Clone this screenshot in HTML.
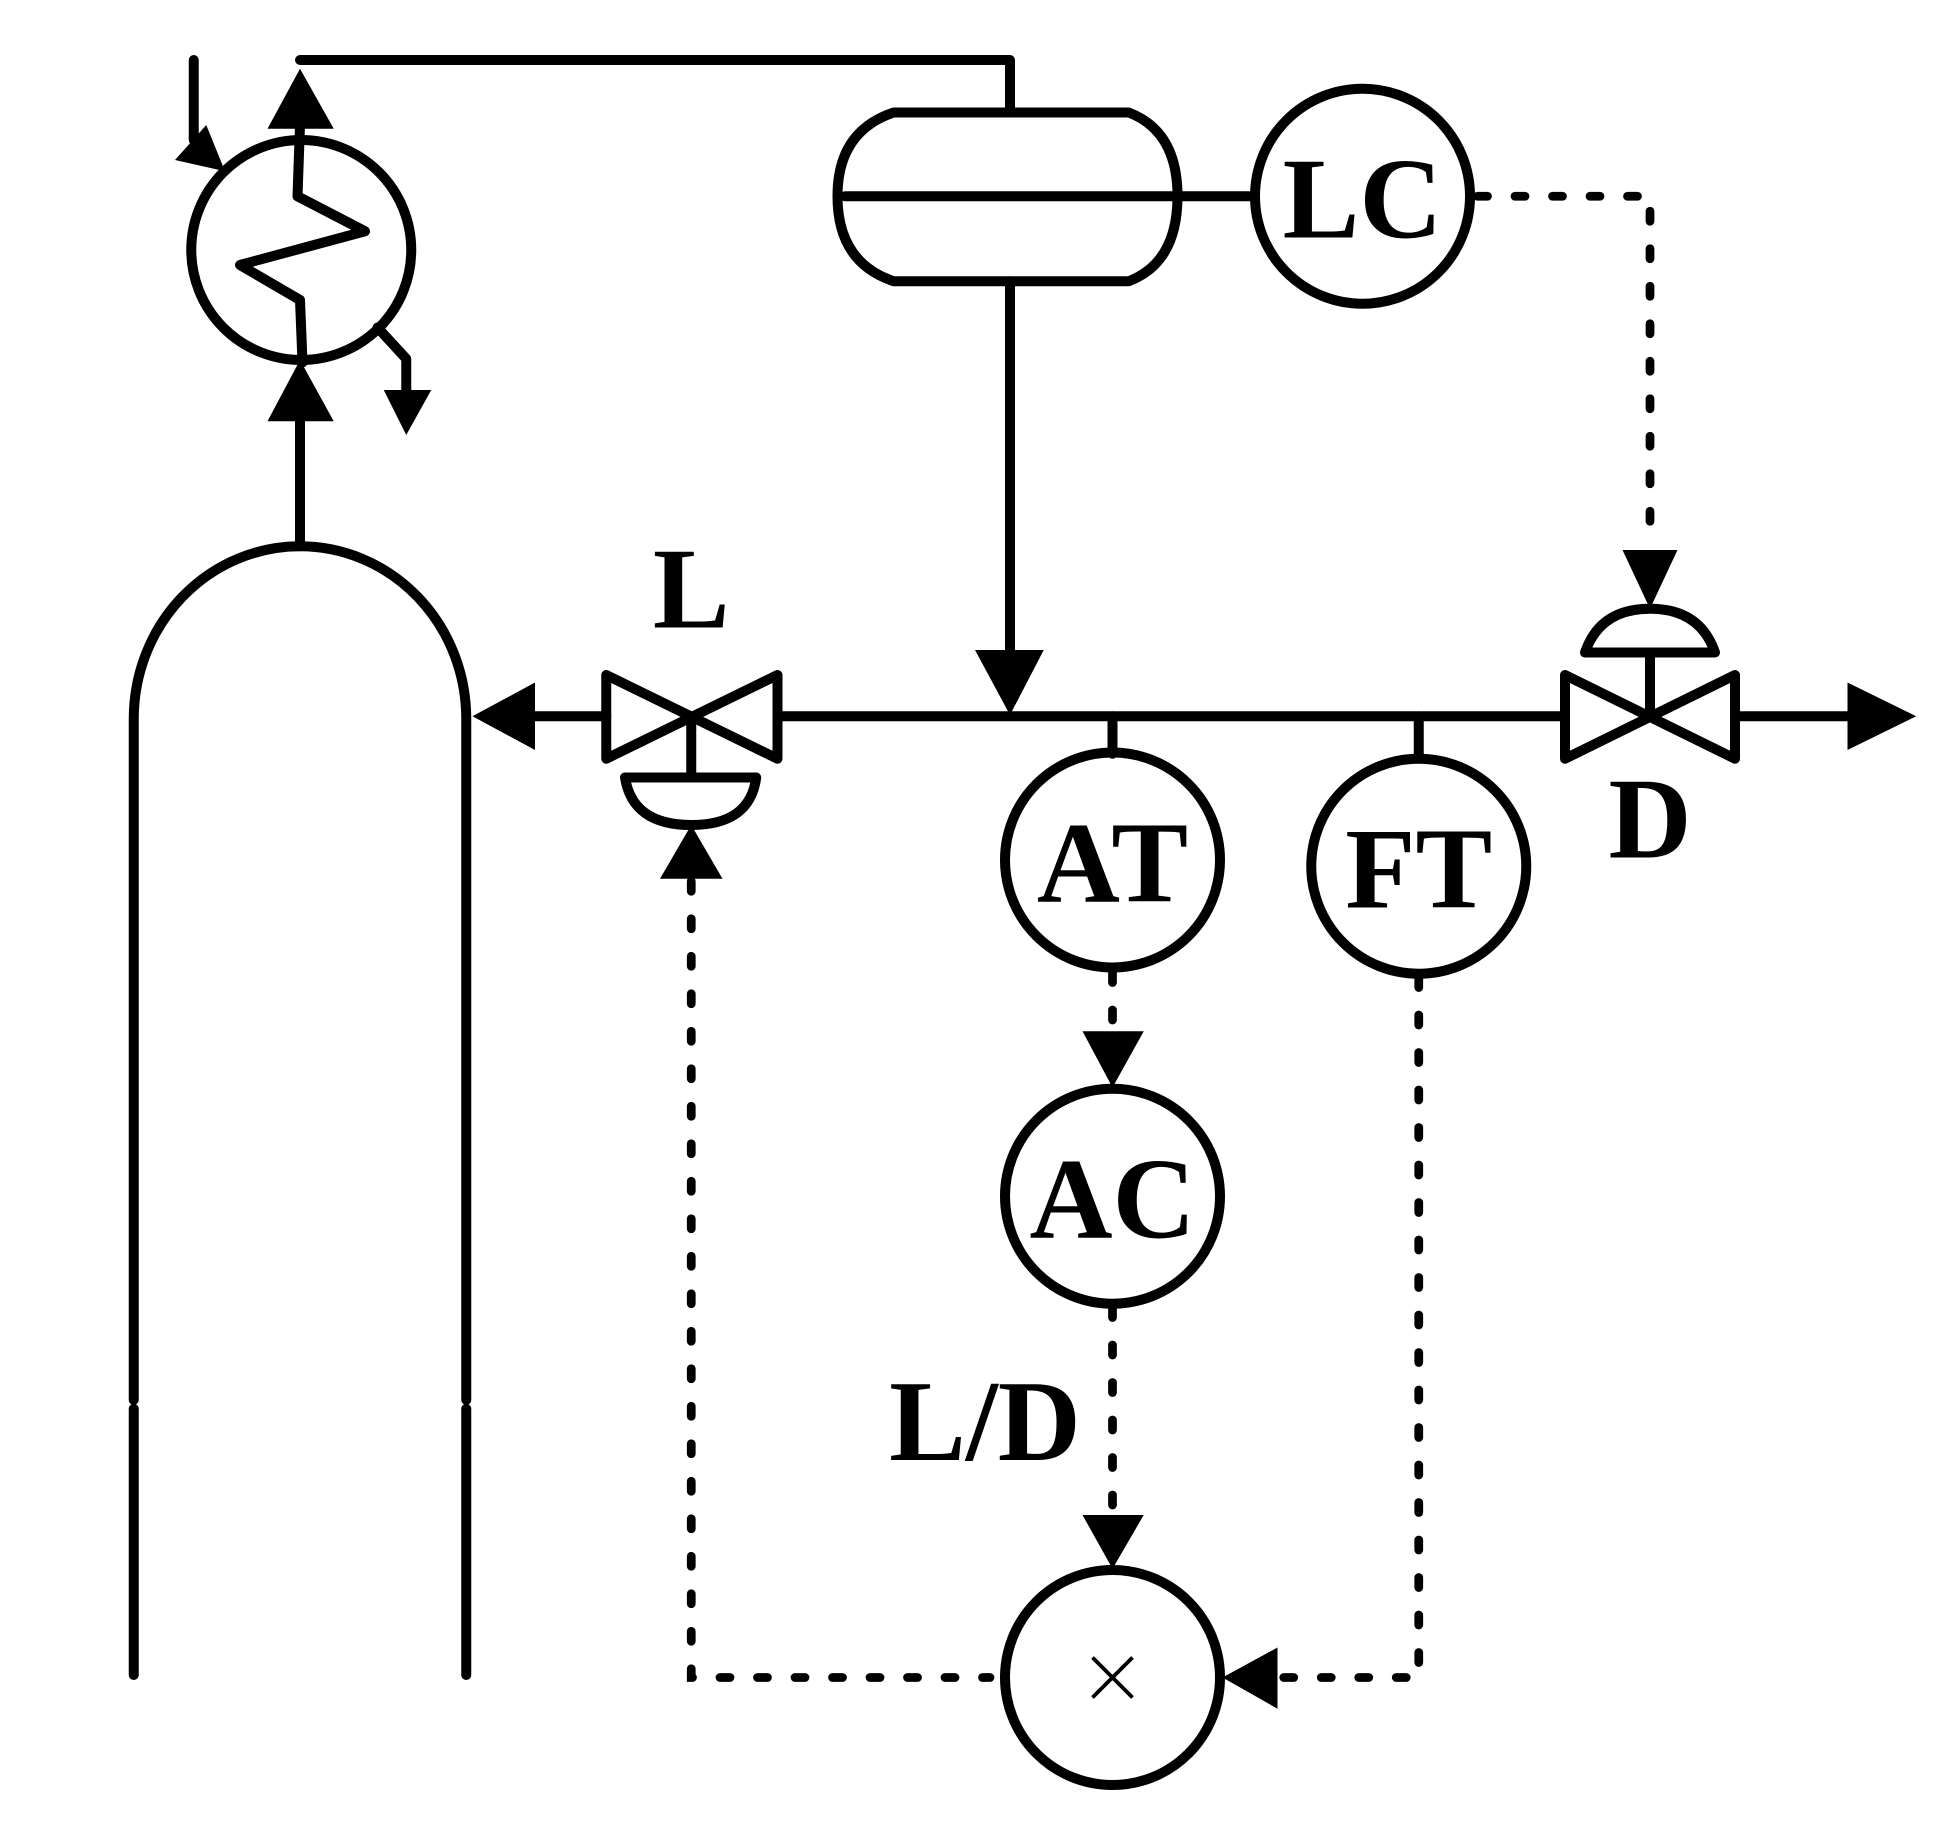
<!DOCTYPE html>
<html><head><style>html,body{margin:0;padding:0;background:#fff}svg{display:block}</style></head><body>
<svg width="1958" height="1826" viewBox="0 0 1566.4 1460.8" preserveAspectRatio="none" xmlns="http://www.w3.org/2000/svg">
<g fill="none" stroke="#000" stroke-width="8" stroke-linejoin="round" stroke-linecap="round">
<path d="M155,48 V112 L172,130"/>
<path d="M240,48 H808 V90"/>
<circle cx="241" cy="200" r="88"/>
<path d="M240,100 L238,157 L292,185 L192,212 L240,240 L242,290"/>
<path d="M302,262 L325,287 V315"/>
<path d="M240,337 V437"/>
<path d="M107,1120 V575 A133,138 0 0 1 373,575 V1120"/>
<path d="M107,1127 V1340 M373,1127 V1340"/>
<path d="M715,90 H903 Q942,105 942,157 Q942,210 903,225 H715 Q670,210 670,157 Q670,105 715,90 Z"/>
<path d="M676,157 H940 M942,157 H1003"/>
<circle cx="1090" cy="157" r="86"/>
<path d="M808,225 V520"/>
<path d="M428,573 H485 M625,573 H1250 M1390,573 H1480"/>
<path d="M485,540 V607 L622,540 V607 Z"/>
<path d="M553,573 V622 M500,622 H605 Q600,660 553,660 Q506,660 500,622 Z"/>
<path d="M1252,540 V607 L1388,540 V607 Z"/>
<path d="M1320,573 V522 M1268,522 H1372 Q1360,487 1320,487 Q1280,487 1268,522 Z"/>
<path d="M890,573 V603 M1135,573 V605"/>
<circle cx="890" cy="688" r="86"/>
<circle cx="1135" cy="693" r="86"/>
<circle cx="890" cy="957" r="86"/>
<circle cx="890" cy="1342" r="86"/>
</g>
<g fill="none" stroke="#000" stroke-width="7" stroke-linecap="round" stroke-dasharray="8 22">
<path d="M1182,157 H1320 V432"/>
<path d="M553,705 V1342 H792"/>
<path d="M890,778 V822"/>
<path d="M890,1046 V1208"/>
<path d="M1135,782 V1342 H1025"/>
</g>
<g fill="#000">
<polygon points="140,128 165,100 180,137"/>
<polygon points="240,55 214,103 267,103"/>
<polygon points="240,288 214,337 267,337"/>
<polygon points="325,348 307,312 345,312"/>
<polygon points="808,572 780,520 835,520"/>
<polygon points="378,573 428,546 428,600"/>
<polygon points="1533,573 1478,546 1478,600"/>
<polygon points="553,660 528,703 578,703"/>
<polygon points="1320,487 1298,440 1342,440"/>
<polygon points="890,870 866,825 915,825"/>
<polygon points="890,1255 866,1212 915,1212"/>
<polygon points="978,1342 1022,1318 1022,1367"/>
</g>
<g font-family="Liberation Serif, Times New Roman, serif" font-weight="bold" font-size="92" text-anchor="middle" fill="#000">
<text x="1090" y="190">LC</text>
<text x="890" y="721">AT</text>
<text x="1135" y="726">FT</text>
<text x="890" y="990">AC</text>
<text x="553" y="502">L</text>
<text x="1320" y="686">D</text>
<text x="788" y="1168">L/D</text>
</g>
<path d="M874,1326 L906,1358 M906,1326 L874,1358" stroke="#000" stroke-width="3"/>
</svg>
</body></html>
